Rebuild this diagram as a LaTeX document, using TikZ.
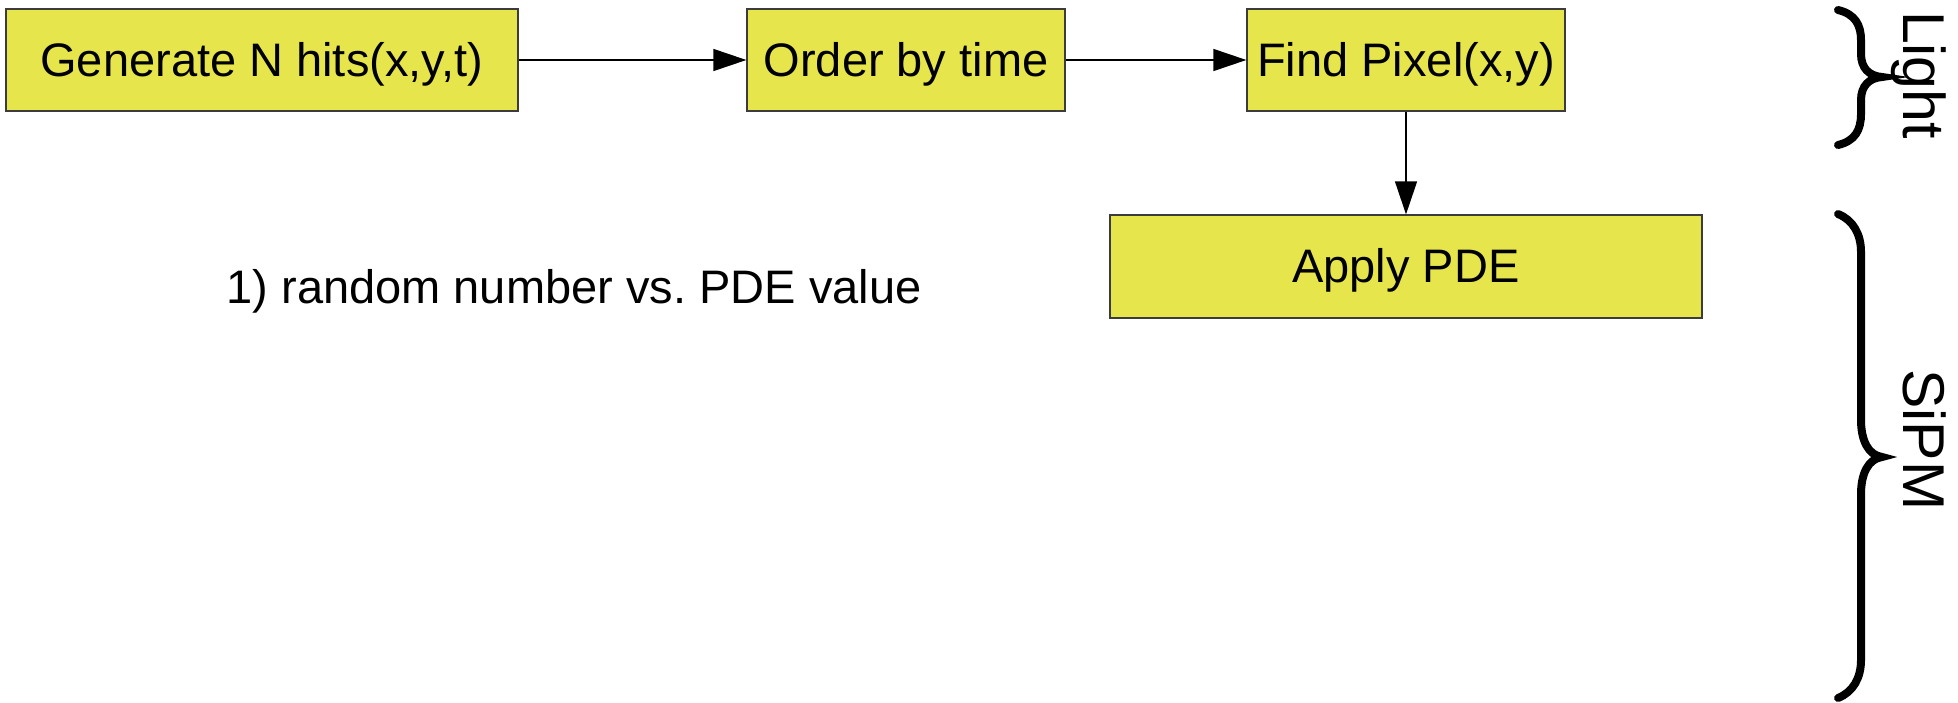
\documentclass[tikz,border=0pt]{standalone}
\usepackage{fontspec}
\setmainfont{Liberation Sans}
\usetikzlibrary{arrows.meta}
\frenchspacing
\definecolor{boxfill}{RGB}{230,229,76}
\definecolor{boxline}{RGB}{60,60,60}
\tikzset{
  procbox/.style={draw=boxline, line width=1.3pt, fill=boxfill, minimum height=102pt, inner sep=0pt,
    text height=42.5pt, text depth=10pt, font=\fontsize{47}{56}\selectfont},
  flow/.style={line width=1.3pt, -{Triangle[length=33pt,width=22pt]}},
  bracestyle/.style={line width=8pt, line cap=round},
  sidelabel/.style={rotate=-90, anchor=base, inner sep=0pt, font=\fontsize{59}{70}\selectfont}
}
\begin{document}
\begin{tikzpicture}[x=1pt,y=-1pt]
\useasboundingbox (0,0) rectangle (1958,702);
\node[procbox, minimum width=512pt] (gen) at (262,60) {Generate N hits(x,y,t)};
\node[procbox, minimum width=318pt] (ord) at (906,60) {Order by time};
\node[procbox, minimum width=318pt] (pix) at (1406,60) {Find Pixel(x,y)};
\node[procbox, minimum width=592pt, minimum height=103pt] (pde) at (1406,266.5) {Apply PDE};
\node[inner sep=0pt, text height=42.5pt, text depth=10pt, font=\fontsize{47}{56}\selectfont] (note) at (574,287) {1) random number vs.\ PDE value};
\draw[flow] (gen) -- (ord);
\draw[flow] (ord) -- (pix);
\draw[flow] (pix) -- (pde);
% Light brace
\draw[bracestyle] (1838,10) .. controls (1855,14) and (1861,25) .. (1861,40)
  -- (1861,54) .. controls (1861,68) and (1869,76) .. (1882,77)
  .. controls (1869,78) and (1861,86) .. (1861,100)
  -- (1861,114) .. controls (1861,130) and (1855,141) .. (1838,145);
% SiPM brace
\draw[bracestyle] (1838,214) .. controls (1853,220) and (1861,234) .. (1861,252)
  -- (1861,420) .. controls (1861,440) and (1868,455) .. (1882,457)
  .. controls (1868,459) and (1861,474) .. (1861,494)
  -- (1861,660) .. controls (1861,678) and (1853,692) .. (1838,698);
\node[sidelabel] (light) at (1903,75) {Light};
\node[sidelabel] (sipm) at (1903,440) {SiPM};
\end{tikzpicture}
\end{document}
